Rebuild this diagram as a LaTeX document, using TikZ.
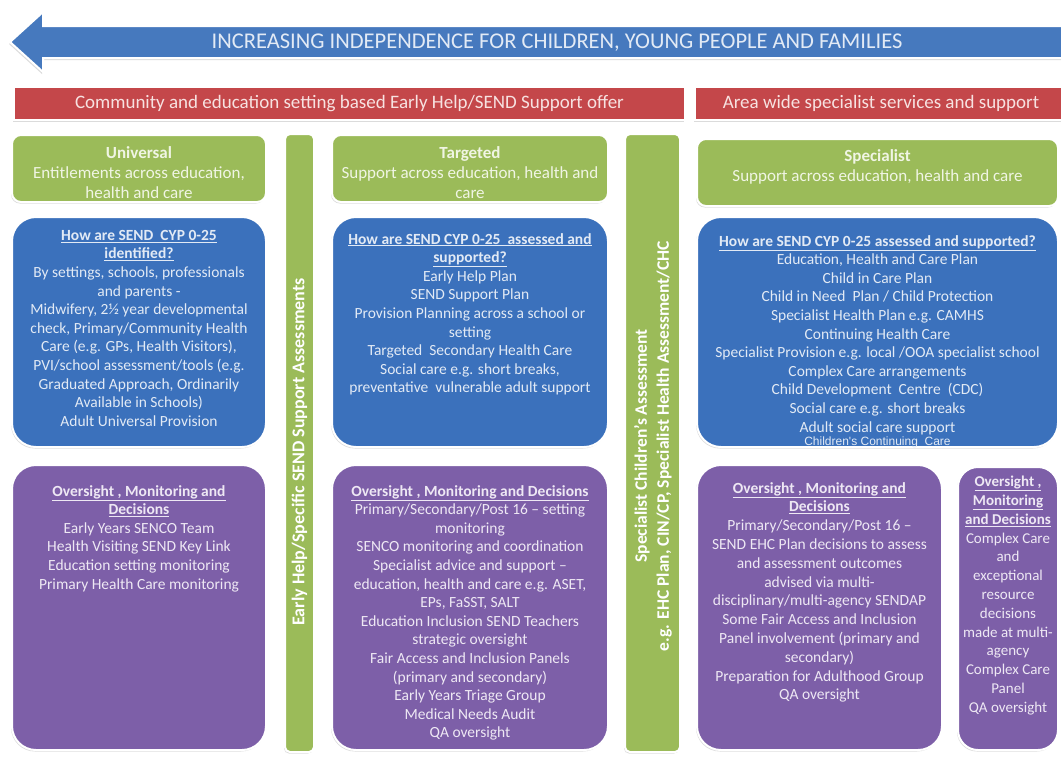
\documentclass[tikz,border=0pt]{standalone}
\usepackage{fontspec}
\setmainfont{Carlito}
\newfontfamily\arialf{Liberation Sans}
\usetikzlibrary{shadows}
\definecolor{cblue}{HTML}{3B71BC}
\definecolor{carrow}{HTML}{4679BE}
\definecolor{cgreen}{HTML}{9BBB59}
\definecolor{cpurple}{HTML}{7D5FA8}
\definecolor{cred}{HTML}{C4474A}
\definecolor{tblue}{HTML}{E2EAF5}
\definecolor{tgreen}{HTML}{F0F5E4}
\definecolor{tpurple}{HTML}{EEE8F4}
\definecolor{tred}{HTML}{F7E2E1}
\newcommand\myhd[1]{\underline{\textbf{#1}}}
\begin{document}
\begin{tikzpicture}[x=1pt,y=-1pt,
  shade box/.style={draw=white, line width=2pt, inner sep=0pt, outer sep=0pt,
    drop shadow={shadow xshift=-1pt, shadow yshift=-1.5pt, opacity=0.28}},
  greenbox/.style={shade box, fill=cgreen, rounded corners=9pt, anchor=north west},
  bluebox/.style={shade box, fill=cblue, rounded corners=24pt, anchor=north west},
  purplebox/.style={shade box, fill=cpurple, rounded corners=24pt, anchor=north west},
  redbar/.style={shade box, fill=cred, anchor=north west},
  vbar/.style={shade box, fill=cgreen, rounded corners=5pt, anchor=north west},
  bodytext/.style={inner sep=0pt, align=center, anchor=north, font=\fontsize{15.5}{18.6}\selectfont},
  btext/.style={bodytext, text=tblue},
  ptext/.style={bodytext, text=tpurple},
  gtext/.style={inner sep=0pt, align=center, anchor=north, text=tgreen, font=\fontsize{17}{20}\selectfont},
  rtext/.style={inner sep=0pt, text=tred, font=\fontsize{19}{21}\selectfont},
  vtext/.style={inner sep=0pt, align=center, rotate=90, text=white, font=\bfseries\fontsize{17.5}{22}\selectfont}
]
\useasboundingbox (0,0) rectangle (1061,756);
\fill[white] (0,0) rectangle (1061,756);

% top arrow
\coordinate (tip) at (10,42);
\draw[fill=carrow, draw=white, line width=2pt, line join=miter,
  drop shadow={shadow xshift=-1pt, shadow yshift=-2pt, opacity=0.28}]
  (tip) -- (43,12) -- (43,26) -- (1070,26) -- (1070,58) -- (43,58) -- (43,72) -- cycle;
\node[inner sep=0pt, text=tblue, font=\fontsize{22.5}{24}\selectfont] (arrowtext) at (557,43)
  {INCREASING INDEPENDENCE FOR CHILDREN, YOUNG PEOPLE AND FAMILIES};

% red bars
\node[redbar, minimum width=671pt, minimum height=33pt] (red1) at (14,87) {};
\node[rtext] (red1t) at (red1.center) {Community and education setting based Early Help/SEND Support offer};
\node[redbar, minimum width=372pt, minimum height=33pt] (red2) at (695,87) {};
\node[rtext] (red2t) at (881,103.5) {Area wide specialist services and support};

% vertical bars
\node[vbar, minimum width=29pt, minimum height=618pt] (vb1) at (285,134) {};
\node[vtext, font=\bfseries\fontsize{18}{22}\selectfont] (vb1t) at (299.5,452) {Early Help/Specific SEND Support Assessments};
\node[vbar, minimum width=55pt, minimum height=618pt] (vb2) at (625,134) {};
\node[vtext] (vb2t) at (653,446) {Specialist Children's Assessment\\e.g. EHC Plan, CIN/CP, Specialist Health Assessment/CHC};

% green headers
\node[greenbox, minimum width=254pt, minimum height=67pt] (gU) at (12,135) {};
\node[gtext, yshift=-11pt] (gUt) at (gU.north)
  {\textbf{Universal}\\Entitlements across education,\\health and care};
\node[greenbox, minimum width=276pt, minimum height=67pt] (gT) at (332,135) {};
\node[gtext, yshift=-11pt] (gTt) at (gT.north)
  {\textbf{Targeted}\\Support across education, health and\\care};
\node[greenbox, minimum width=361pt, minimum height=67pt] (gS) at (697,139) {};
\node[gtext, yshift=-10pt] (gSt) at (gS.north)
  {\textbf{Specialist}\\Support across education, health and care};

% blue boxes
\node[bluebox, minimum width=254pt, minimum height=230pt] (b1) at (12,217) {};
\node[btext, yshift=-13pt] (b1t) at (b1.north)
  {\myhd{How are SEND\ \ CYP 0-25}\\\myhd{identified?}\\By settings, schools, professionals\\and parents -\\Midwifery, 2½ year developmental\\check, Primary/Community Health\\Care (e.g. GPs, Health Visitors),\\PVI/school assessment/tools (e.g.\\Graduated Approach, Ordinarily\\Available in Schools)\\Adult Universal Provision};
\node[bluebox, minimum width=276pt, minimum height=230pt] (b2) at (332,217) {};
\node[btext, yshift=-16pt] (b2t) at (b2.north)
  {\myhd{How are SEND CYP 0-25\ \ assessed and}\\\myhd{supported?}\\Early Help Plan\\SEND Support Plan\\Provision Planning across a school or\\setting\\Targeted\ \ Secondary Health Care\\Social care e.g. short breaks,\\preventative\ \ vulnerable adult support};
\node[bluebox, minimum width=361pt, minimum height=230pt] (b3) at (697,217) {};
\node[btext, yshift=-18pt] (b3t) at (b3.north)
  {\myhd{How are SEND CYP 0-25 assessed and supported?}\\Education, Health and Care Plan\\Child in Care Plan\\Child in Need\ \ Plan / Child Protection\\Specialist Health Plan e.g. CAMHS\\Continuing Health Care\\Specialist Provision e.g. local /OOA specialist school\\Complex Care arrangements\\Child Development\ \ Centre\ \ (CDC)\\Social care e.g. short breaks\\Adult social care support\\[-5.5pt]{\arialf\fontsize{12}{12}\selectfont Children's Continuing\ \ Care}};

% purple boxes
\node[purplebox, minimum width=254pt, minimum height=285pt] (p1) at (12,465) {};
\node[ptext, yshift=-20pt] (p1t) at (p1.north)
  {\myhd{Oversight , Monitoring and}\\\myhd{Decisions}\\Early Years SENCO Team\\Health Visiting SEND Key Link\\Education setting monitoring\\Primary Health Care monitoring};
\node[purplebox, minimum width=276pt, minimum height=285pt] (p2) at (332,465) {};
\node[ptext, yshift=-20pt] (p2t) at (p2.north)
  {\myhd{Oversight , Monitoring and Decisions}\\Primary/Secondary/Post 16 -- setting\\monitoring\\SENCO monitoring and coordination\\Specialist advice and support --\\education, health and care e.g. ASET,\\EPs, FaSST, SALT\\Education Inclusion SEND Teachers\\strategic oversight\\Fair Access and Inclusion Panels\\(primary and secondary)\\Early Years Triage Group\\Medical Needs Audit\\QA oversight};
\node[purplebox, minimum width=245pt, minimum height=285pt] (p3) at (697,465) {};
\node[ptext, yshift=-17pt, font=\fontsize{15.5}{18.8}\selectfont] (p3t) at (p3.north)
  {\myhd{Oversight , Monitoring and}\\\myhd{Decisions}\\Primary/Secondary/Post 16 --\\SEND EHC Plan decisions to assess\\and assessment outcomes\\advised via multi-\\disciplinary/multi-agency SENDAP\\Some Fair Access and Inclusion\\Panel involvement (primary and\\secondary)\\Preparation for Adulthood Group\\QA oversight};
\node[purplebox, rounded corners=20pt, minimum width=100pt, minimum height=283pt] (p4) at (958,467) {};
\node[ptext, yshift=-9pt, font=\fontsize{15}{18.8}\selectfont] (p4t) at (p4.north)
  {\myhd{Oversight ,}\\\myhd{Monitoring}\\\myhd{and Decisions}\\Complex Care\\and\\exceptional\\resource\\decisions\\made at multi-\\agency\\Complex Care\\Panel\\QA oversight};
\end{tikzpicture}
\end{document}
